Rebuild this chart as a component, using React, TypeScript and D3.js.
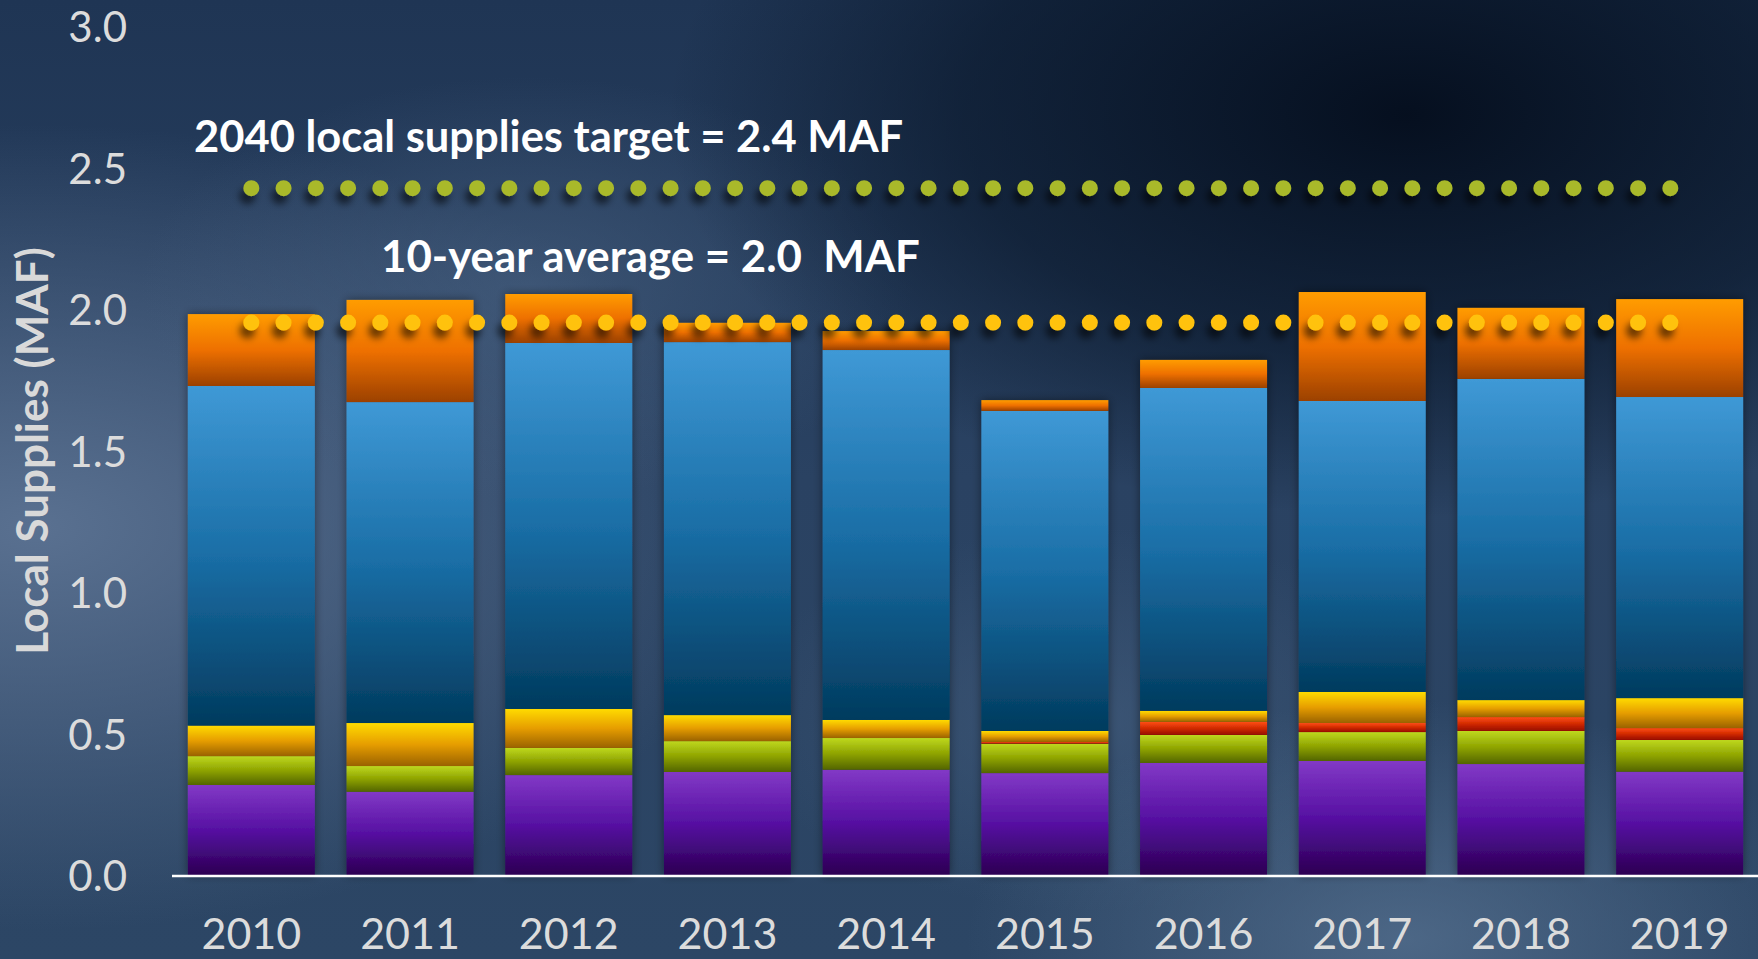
import React from "react";
import * as d3 from "d3";

const years = ["2010", "2011", "2012", "2013", "2014", "2015", "2016", "2017", "2018", "2019"];
const purpleVals = [0.318, 0.294, 0.353, 0.364, 0.372, 0.36, 0.396, 0.403, 0.392, 0.365];
const greenVals = [0.102, 0.091, 0.096, 0.109, 0.112, 0.104, 0.099, 0.102, 0.117, 0.112];
const redVals = [0, 0, 0, 0, 0, 0.006, 0.046, 0.032, 0.049, 0.042];
const yellowVals = [0.108, 0.152, 0.138, 0.092, 0.064, 0.039, 0.039, 0.11, 0.06, 0.106];
const blueVals = [1.2, 1.134, 1.293, 1.318, 1.307, 1.131, 1.141, 1.028, 1.135, 1.064];
const orangeVals = [0.254, 0.361, 0.173, 0.068, 0.067, 0.038, 0.099, 0.385, 0.251, 0.346];

const yTicks = [0, 0.5, 1.0, 1.5, 2.0, 2.5, 3.0];
const targetLevel = 2.427;
const averageLevel = 1.952;
const targetLabel = "2040 local supplies target = 2.4 MAF";
const averageLabel = "10-year average = 2.0  MAF";
const yTitle = "Local Supplies (MAF)";

const keys = ["purple", "green", "red", "yellow", "blue", "orange"];
const gradStops: Record<string, string[]> = {
  purple: ["#8239c6", "#5610a2", "#2c0052"],
  green: ["#bed81e", "#8ea300", "#536500"],
  red: ["#ff4d16", "#d02a00", "#960c00"],
  yellow: ["#ffdb00", "#e69d00", "#9a6200"],
  blue: ["#3f99d6", "#1a6ea6", "#023b5e"],
  orange: ["#ff9c00", "#ee7000", "#9c4100"],
};

export default function App() {
  const W = 1758;
  const H = 959;
  const x = d3.scaleBand<string>().domain(years).range([172, 1759]).paddingInner(0.2).paddingOuter(0.1);
  const y = d3.scaleLinear().domain([0, 3]).range([875, 26]);

  const rows = years.map((yr, i) => ({
    year: yr,
    purple: purpleVals[i],
    green: greenVals[i],
    red: redVals[i],
    yellow: yellowVals[i],
    blue: blueVals[i],
    orange: orangeVals[i],
  }));
  const series = d3.stack<any>().keys(keys)(rows);

  const bw = x.bandwidth();
  const lineX0 = (x(years[0]) as number) + bw / 2;
  const lineX1 = (x(years[years.length - 1]) as number) + bw / 2;
  const dotGap = 32.25;

  const font = "Lato, 'Open Sans', sans-serif";

  return (
    <svg width={W} height={H} style={{ position: "fixed", left: 0, top: 0, display: "block" }}>
      <defs>
        <linearGradient id="bgBase" x1="0" y1="0" x2="0" y2="1">
          <stop offset="0" stopColor="#1f3554" />
          <stop offset="0.5" stopColor="#2a4262" />
          <stop offset="1" stopColor="#2c4665" />
        </linearGradient>
        <radialGradient id="bgLeft" cx="0.02" cy="0.55" r="0.42">
          <stop offset="0" stopColor="#5c7393" stopOpacity="0.95" />
          <stop offset="1" stopColor="#5c7393" stopOpacity="0" />
        </radialGradient>
        <radialGradient id="bgDark" cx="0.8" cy="0.12" r="0.42">
          <stop offset="0" stopColor="#040d1c" stopOpacity="0.95" />
          <stop offset="0.6" stopColor="#071426" stopOpacity="0.6" />
          <stop offset="1" stopColor="#071426" stopOpacity="0" />
        </radialGradient>
        <radialGradient id="bgCenter" cx="0.3" cy="0.3" r="0.22">
          <stop offset="0" stopColor="#4a6383" stopOpacity="0.6" />
          <stop offset="1" stopColor="#4a6383" stopOpacity="0" />
        </radialGradient>
        <radialGradient id="bgBR" cx="0.8" cy="0.98" r="0.25">
          <stop offset="0" stopColor="#5a7594" stopOpacity="0.7" />
          <stop offset="1" stopColor="#5a7594" stopOpacity="0" />
        </radialGradient>
        <radialGradient id="bgMid" cx="0.62" cy="0.75" r="0.2">
          <stop offset="0" stopColor="#4a6484" stopOpacity="0.5" />
          <stop offset="1" stopColor="#4a6484" stopOpacity="0" />
        </radialGradient>
        {keys.map((k) => (
          <linearGradient key={k} id={`g-${k}`} x1="0" y1="0" x2="0" y2="1">
            <stop offset="0" stopColor={gradStops[k][0]} />
            <stop offset="0.5" stopColor={gradStops[k][1]} />
            <stop offset="1" stopColor={gradStops[k][2]} />
          </linearGradient>
        ))}
        <filter id="barShadow" x="-20%" y="-5%" width="140%" height="110%">
          <feDropShadow dx="0" dy="0" stdDeviation="5" floodColor="#000" floodOpacity="0.45" />
        </filter>
        <filter id="dotShadow" filterUnits="userSpaceOnUse" x={0} y={0} width={W} height={H}>
          <feDropShadow dx="-4" dy="8" stdDeviation="3.5" floodColor="#000" floodOpacity="0.55" />
        </filter>
      </defs>

      <rect x={0} y={0} width={W} height={H} fill="url(#bgBase)" />
      <rect x={0} y={0} width={W} height={H} fill="url(#bgLeft)" />
      <rect x={0} y={0} width={W} height={H} fill="url(#bgCenter)" />
      <rect x={0} y={0} width={W} height={H} fill="url(#bgMid)" />
      <rect x={0} y={0} width={W} height={H} fill="url(#bgBR)" />
      <rect x={0} y={0} width={W} height={H} fill="url(#bgDark)" />

      {/* bars */}
      {years.map((yr, i) => (
        <g key={yr} filter="url(#barShadow)">
          {series.map((s) => {
            const d = s[i];
            const h = y(d[0]) - y(d[1]);
            if (h <= 0) return null;
            return (
              <rect
                key={s.key}
                x={x(yr)}
                y={y(d[1])}
                width={bw}
                height={h}
                fill={`url(#g-${s.key})`}
              />
            );
          })}
        </g>
      ))}

      {/* baseline */}
      <line x1={172} x2={W} y1={y(0) + 1} y2={y(0) + 1} stroke="#ffffff" strokeWidth={2.5} />

      {/* y ticks */}
      {yTicks.map((t) => (
        <text
          key={t}
          x={127}
          y={y(t)}
          textAnchor="end"
          dominantBaseline="central"
          fontFamily={font}
          fontSize={42}
          fill="#dcdcdc"
        >
          {d3.format(".1f")(t)}
        </text>
      ))}

      {/* x labels */}
      {years.map((yr) => (
        <text
          key={yr}
          x={(x(yr) as number) + bw / 2}
          y={949}
          textAnchor="middle"
          fontFamily={font}
          fontSize={43}
          fill="#dcdcdc"
        >
          {yr}
        </text>
      ))}

      {/* y title */}
      <text
        transform={`translate(48, 451) rotate(-90)`}
        textAnchor="middle"
        fontFamily={font}
        fontWeight="bold"
        fontSize={44}
        fill="#d9d9d9"
      >
        {yTitle}
      </text>

      {/* dotted reference lines */}
      <g filter="url(#dotShadow)">
        <line
          x1={lineX0}
          x2={lineX1}
          y1={y(targetLevel)}
          y2={y(targetLevel)}
          stroke="#a9b92a"
          strokeWidth={16}
          strokeLinecap="round"
          strokeDasharray={`0 ${dotGap}`}
        />
        <line
          x1={lineX0}
          x2={lineX1}
          y1={y(averageLevel)}
          y2={y(averageLevel)}
          stroke="#ffc20a"
          strokeWidth={16}
          strokeLinecap="round"
          strokeDasharray={`0 ${dotGap}`}
        />
      </g>

      {/* labels */}
      <text x={194} y={152} fontFamily={font} fontWeight="bold" fontSize={43.5} fill="#ffffff">
        {targetLabel}
      </text>
      <text x={381} y={272} fontFamily={font} fontWeight="bold" fontSize={43.8} fill="#ffffff" style={{ whiteSpace: "pre" }}>
        {averageLabel}
      </text>
    </svg>
  );
}
